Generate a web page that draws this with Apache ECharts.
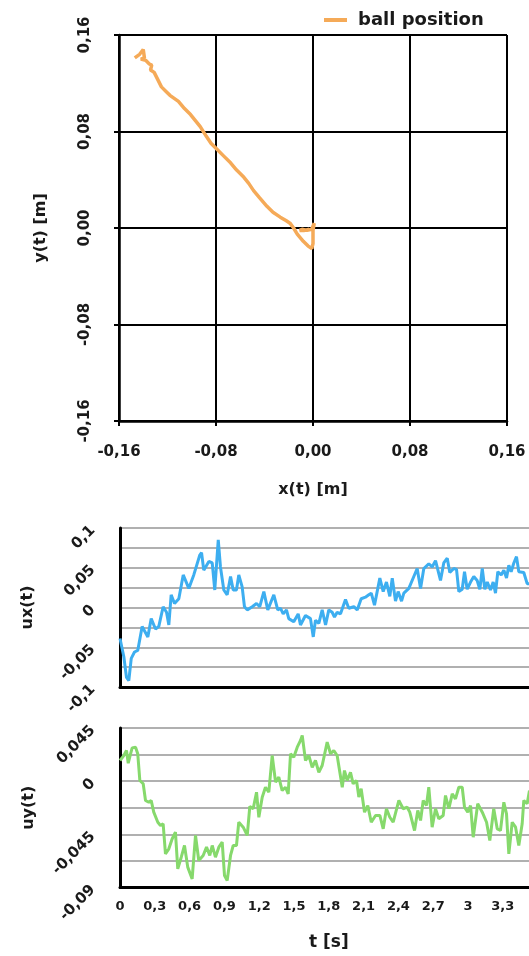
<!DOCTYPE html>
<html>
<head>
<meta charset="utf-8">
<script src="https://cdn.jsdelivr.net/npm/echarts@6/dist/echarts.min.js"></script>
<style>
html,body{margin:0;padding:0;background:#fff;}
#c{width:529px;height:956px;}
</style>
</head>
<body>
<div id="c"></div>
<script>
// ---------- data ----------
// ball trajectory (x, y) in metres
const posX = [-0.147,-0.143,-0.140,-0.139,-0.142,-0.138,-0.135,-0.133,-0.134,-0.131,-0.128,-0.125,-0.121,-0.118,-0.111,-0.106,-0.101,-0.097,-0.093,-0.088,-0.084,-0.079,-0.074,-0.068,-0.063,-0.057,-0.053,-0.049,-0.044,-0.038,-0.033,-0.027,-0.022,-0.019,-0.016,-0.013,-0.008,-0.004,-0.001,0.000,0.000,0.000,0.001,-0.001,-0.005,-0.009,-0.011,-0.007,-0.003];
const posY = [0.141,0.144,0.148,0.141,0.140,0.139,0.136,0.135,0.131,0.129,0.123,0.117,0.113,0.110,0.105,0.099,0.094,0.089,0.084,0.076,0.070,0.065,0.060,0.054,0.048,0.042,0.037,0.031,0.025,0.018,0.013,0.009,0.006,0.004,0.000,-0.005,-0.011,-0.015,-0.017,-0.013,-0.007,-0.002,0.004,-0.001,-0.002,-0.001,-0.002,-0.002,-0.001];

// ux(t)
const uxT = [0,0.033,0.056,0.076,0.097,0.125,0.153,0.191,0.240,0.269,0.306,0.334,0.372,0.401,0.421,0.441,0.470,0.507,0.545,0.593,0.636,0.688,0.703,0.722,0.766,0.795,0.817,0.832,0.847,0.866,0.895,0.924,0.953,0.976,1.004,1.024,1.053,1.073,1.097,1.140,1.177,1.205,1.240,1.274,1.326,1.360,1.384,1.407,1.435,1.455,1.498,1.536,1.556,1.599,1.642,1.666,1.685,1.714,1.743,1.772,1.800,1.829,1.849,1.872,1.901,1.944,1.972,2.016,2.045,2.079,2.116,2.145,2.166,2.194,2.240,2.269,2.297,2.326,2.347,2.375,2.398,2.427,2.447,2.490,2.533,2.562,2.591,2.619,2.662,2.691,2.720,2.763,2.791,2.821,2.843,2.878,2.901,2.921,2.950,2.970,2.993,3.022,3.050,3.079,3.102,3.123,3.145,3.166,3.194,3.217,3.237,3.257,3.286,3.309,3.332,3.352,3.372,3.395,3.418,3.438,3.481,3.510,3.530];
const uxV = [-0.039,-0.062,-0.088,-0.092,-0.064,-0.056,-0.054,-0.024,-0.037,-0.014,-0.027,-0.024,0.001,-0.006,-0.022,0.016,0.005,0.011,0.041,0.024,0.041,0.066,0.069,0.047,0.058,0.056,0.022,0.024,0.085,0.051,0.022,0.016,0.039,0.022,0.022,0.041,0.026,0.001,-0.003,0.001,0.005,0.001,0.020,-0.003,0.016,-0.003,-0.001,-0.008,-0.003,-0.014,-0.018,-0.008,-0.022,-0.010,-0.014,-0.037,-0.016,-0.020,-0.003,-0.022,-0.003,-0.006,-0.012,-0.006,-0.008,0.010,-0.001,0.001,-0.003,0.011,0.013,0.016,0.018,0.003,0.037,0.020,0.032,0.014,0.037,0.008,0.020,0.008,0.018,0.024,0.039,0.049,0.024,0.049,0.055,0.051,0.059,0.034,0.056,0.062,0.044,0.049,0.048,0.020,0.023,0.045,0.023,0.032,0.039,0.034,0.023,0.049,0.023,0.032,0.022,0.032,0.018,0.045,0.041,0.047,0.037,0.053,0.045,0.056,0.064,0.045,0.044,0.030,0.030];

// uy(t)
const uyT = [0,0.033,0.056,0.071,0.091,0.105,0.134,0.153,0.171,0.200,0.220,0.248,0.269,0.291,0.326,0.349,0.372,0.392,0.421,0.450,0.478,0.498,0.528,0.556,0.584,0.622,0.651,0.679,0.717,0.746,0.774,0.795,0.823,0.852,0.881,0.901,0.924,0.953,0.976,1.004,1.024,1.062,1.097,1.119,1.148,1.177,1.197,1.226,1.254,1.283,1.312,1.341,1.369,1.398,1.427,1.450,1.470,1.498,1.528,1.556,1.571,1.599,1.628,1.657,1.685,1.714,1.743,1.786,1.815,1.843,1.872,1.916,1.935,1.959,1.987,2.010,2.039,2.059,2.079,2.108,2.136,2.166,2.203,2.240,2.269,2.297,2.326,2.355,2.404,2.441,2.476,2.498,2.539,2.567,2.591,2.614,2.642,2.662,2.691,2.720,2.748,2.786,2.806,2.835,2.864,2.892,2.921,2.950,2.970,2.998,3.022,3.045,3.084,3.123,3.160,3.188,3.222,3.252,3.280,3.309,3.332,3.352,3.381,3.410,3.438,3.467,3.481,3.510,3.530];
const uyV = [0.0175,0.0217,0.0260,0.0152,0.0232,0.0282,0.0288,0.0232,0.0006,-0.0022,-0.0163,-0.0178,-0.0163,-0.0262,-0.0347,-0.0375,-0.0360,-0.0614,-0.0572,-0.0487,-0.0431,-0.0741,-0.0643,-0.0544,-0.0727,-0.0826,-0.0459,-0.0671,-0.0628,-0.0558,-0.0628,-0.0544,-0.0643,-0.0558,-0.0516,-0.0798,-0.0840,-0.0628,-0.0544,-0.0544,-0.0347,-0.0389,-0.0459,-0.0214,-0.0233,-0.0093,-0.0305,-0.0135,-0.0051,-0.0093,0.0217,-0.0008,0.0034,-0.0079,-0.0051,-0.0107,0.0232,0.0203,0.0288,0.0344,0.0387,0.0175,0.0217,0.0118,0.0175,0.0076,0.0133,0.0330,0.0232,0.0260,0.0217,-0.0051,0.0090,0.0006,0.0076,-0.0022,0.0006,-0.0135,-0.0064,-0.0262,-0.0206,-0.0347,-0.0290,-0.0290,-0.0403,-0.0233,-0.0305,-0.0347,-0.0163,-0.0233,-0.0220,-0.0262,-0.0417,-0.0248,-0.0332,-0.0163,-0.0206,-0.0051,-0.0389,-0.0233,-0.0318,-0.0290,-0.0121,-0.0233,-0.0107,-0.0149,-0.0051,-0.0051,-0.0220,-0.0262,-0.0206,-0.0474,-0.0191,-0.0262,-0.0347,-0.0502,-0.0233,-0.0403,-0.0417,-0.0178,-0.0276,-0.0614,-0.0347,-0.0389,-0.0544,-0.0360,-0.0163,-0.0191,-0.0079];

// tick labels
const posTicks = [-0.16,-0.08,0,0.08,0.16];
const posTickLabels = ['-0,16','-0,08','0,00','0,08','0,16'];
const uxTicks = [-0.1,-0.05,0,0.05,0.1];
const uxTickLabels = ['-0,1','-0,05','0','0,05','0,1'];
const uyTicks = [-0.09,-0.045,0,0.045];
const uyTickLabels = ['-0,09','-0,045','0','0,045'];
const tTicks = [0,0.3,0.6,0.9,1.2,1.5,1.8,2.1,2.4,2.7,3,3.3];
const tTickLabels = ['0','0,3','0,6','0,9','1,2','1,5','1,8','2,1','2,4','2,7','3','3,3'];

// ---------- chart ----------
function lab(ticks, labels){
  return function(v){
    for (let i=0;i<ticks.length;i++){ if (Math.abs(ticks[i]-v)<1e-7) return labels[i]; }
    return '';
  };
}
function zip(a,b){ return a.map((v,i)=>[v,b[i]]); }

const FONT = 'DejaVu Sans';
const TXT = '#1a1a1a';
const chart = echarts.init(document.getElementById('c'), null, {renderer:'canvas'});

const blk = {color:'#000', width:2.5};
chart.setOption({
  animation:false,
  backgroundColor:'#fff',
  textStyle:{fontFamily:FONT},
  legend:{
    data:['ball position'], left:319, top:6, icon:'rect', itemWidth:23, itemHeight:4,
    textStyle:{fontFamily:FONT, fontWeight:'bold', fontSize:18, color:TXT, padding:[0,0,0,6]}
  },
  grid:[
    {left:119, top:35, width:388, height:386, outerBoundsMode:'none'},
    {left:120, top:528, width:417.6, height:159, outerBoundsMode:'none'},
    {left:120, top:728, width:417.6, height:159.6, outerBoundsMode:'none'}
  ],
  xAxis:[
    {gridIndex:0, type:'value', min:-0.16, max:0.16, interval:0.08,
     name:'x(t) [m]', nameLocation:'middle', nameGap:61,
     nameTextStyle:{fontFamily:FONT, fontWeight:'bold', fontSize:16, color:TXT},
     axisLine:{onZero:false, lineStyle:blk},
     axisTick:{show:true, length:5, lineStyle:{color:'#000', width:2}},
     axisLabel:{formatter:lab(posTicks,posTickLabels), margin:24, fontFamily:FONT, fontWeight:'bold', fontSize:15, color:TXT},
     splitLine:{show:true, lineStyle:{color:'#000', width:2}}},
    {gridIndex:1, type:'value', min:0, max:3.6, interval:0.3,
     axisLine:{onZero:false, lineStyle:{color:'#000', width:3}},
     axisTick:{show:false}, axisLabel:{show:false}, splitLine:{show:false}},
    {gridIndex:2, type:'value', min:0, max:3.6, interval:0.3,
     name:'t [s]', nameLocation:'middle', nameGap:46,
     nameTextStyle:{fontFamily:FONT, fontWeight:'bold', fontSize:17, color:TXT},
     axisLine:{onZero:false, lineStyle:{color:'#000', width:3}},
     axisTick:{show:false},
     axisLabel:{formatter:lab(tTicks,tTickLabels), margin:13, fontFamily:FONT, fontWeight:'bold', fontSize:13, color:TXT, showMaxLabel:false},
     splitLine:{show:false}}
  ],
  yAxis:[
    {gridIndex:0, type:'value', min:-0.16, max:0.16, interval:0.08,
     name:'y(t) [m]', nameLocation:'middle', nameGap:70,
     nameTextStyle:{fontFamily:FONT, fontWeight:'bold', fontSize:16, color:TXT},
     axisLine:{onZero:false, lineStyle:blk},
     axisTick:{show:true, length:5, lineStyle:{color:'#000', width:2}},
     axisLabel:{formatter:lab(posTicks,posTickLabels), rotate:90, margin:26, fontFamily:FONT, fontWeight:'bold', fontSize:15, color:TXT},
     splitLine:{show:true, lineStyle:{color:'#000', width:2}}},
    {gridIndex:1, type:'value', min:-0.1, max:0.1, interval:0.025,
     name:'ux(t)', nameLocation:'middle', nameGap:84,
     nameTextStyle:{fontFamily:FONT, fontWeight:'bold', fontSize:16, color:TXT},
     axisLine:{show:true, onZero:false, lineStyle:{color:'#000', width:3}},
     axisTick:{show:false},
     axisLabel:{formatter:lab(uxTicks,uxTickLabels), rotate:45, margin:27, fontFamily:FONT, fontWeight:'bold', fontSize:15, color:TXT},
     splitLine:{show:true, lineStyle:{color:'#b0b0b0', width:2}}},
    {gridIndex:2, type:'value', min:-0.09, max:0.045, interval:0.0225,
     name:'uy(t)', nameLocation:'middle', nameGap:83,
     nameTextStyle:{fontFamily:FONT, fontWeight:'bold', fontSize:16, color:TXT},
     axisLine:{show:true, onZero:false, lineStyle:{color:'#000', width:3}},
     axisTick:{show:false},
     axisLabel:{formatter:lab(uyTicks,uyTickLabels), rotate:45, margin:27, fontFamily:FONT, fontWeight:'bold', fontSize:15, color:TXT},
     splitLine:{show:true, lineStyle:{color:'#b0b0b0', width:2}}}
  ],
  series:[
    {name:'ball position', type:'line', xAxisIndex:0, yAxisIndex:0, data:zip(posX,posY),
     showSymbol:false, symbol:'none', color:'#F5AA58', lineStyle:{width:3.5, color:'#F5AA58'}},
    {name:'ux', type:'line', xAxisIndex:1, yAxisIndex:1, data:zip(uxT,uxV),
     showSymbol:false, symbol:'none', color:'#3DAEF0', lineStyle:{width:3, color:'#3DAEF0'}},
    {name:'uy', type:'line', xAxisIndex:2, yAxisIndex:2, data:zip(uyT,uyV),
     showSymbol:false, symbol:'none', color:'#86D96C', lineStyle:{width:3, color:'#86D96C'}}
  ]
});
</script>
</body>
</html>
